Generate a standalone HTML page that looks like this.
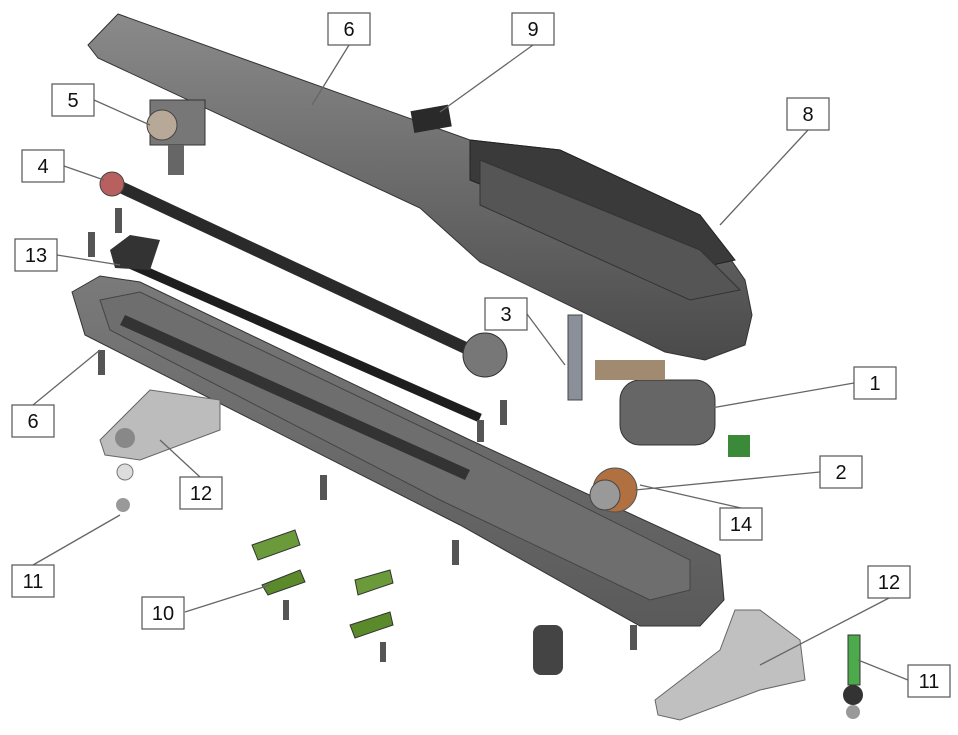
<!DOCTYPE html>
<html><head><meta charset="utf-8"><style>
html,body{margin:0;padding:0;background:#fff;}
svg{display:block;}
text{font-family:"Liberation Sans",sans-serif;font-size:20px;fill:#111;text-anchor:middle;}
.box{fill:#fff;stroke:#555;stroke-width:1.2;}
.ln{stroke:#666;stroke-width:1.3;fill:none;}
.sc{fill:#555;}
</style></head><body>
<svg width="958" height="735" viewBox="0 0 958 735">
<defs>
<linearGradient id="cov" x1="0" y1="0" x2="0" y2="1"><stop offset="0" stop-color="#8a8a8a"/><stop offset="1" stop-color="#4a4a4a"/></linearGradient>
<linearGradient id="hou" x1="0" y1="0" x2="0" y2="1"><stop offset="0" stop-color="#7a7a7a"/><stop offset="1" stop-color="#5a5a5a"/></linearGradient>
</defs>
<!-- top cover -->
<polygon points="88,45 118,14 470,140 560,150 700,215 745,280 752,315 745,345 705,360 665,352 480,262 420,208 98,58" fill="url(#cov)" stroke="#333"/>
<polygon points="470,140 560,150 700,215 735,260 690,270 470,180" fill="#3a3a3a" stroke="#222"/>
<polygon points="480,160 700,250 740,290 690,300 480,205" fill="#555" stroke="#333"/>
<!-- 9 -->
<rect x="412" y="108" width="38" height="22" fill="#2a2a2a" transform="rotate(-10 430 118)"/>
<!-- 5 -->
<rect x="150" y="100" width="55" height="45" fill="#777" stroke="#333"/>
<circle cx="162" cy="125" r="15" fill="#b8a898" stroke="#444"/>
<rect x="168" y="145" width="16" height="30" fill="#666"/>
<!-- bottom housing -->
<polygon points="72,292 100,276 140,282 470,440 720,555 724,600 700,626 640,626 460,525 85,335" fill="url(#hou)" stroke="#333"/>
<polygon points="100,300 140,292 470,450 690,560 690,590 650,600 440,500 110,330" fill="#6e6e6e" stroke="#444"/>
<polygon points="125,315 470,470 465,480 120,325" fill="#333"/>
<!-- screw 4 -->
<line x1="112" y1="183" x2="470" y2="350" stroke="#2a2a2a" stroke-width="12"/>
<circle cx="112" cy="184" r="12" fill="#b86060" stroke="#444"/>
<circle cx="485" cy="355" r="22" fill="#777" stroke="#333"/>
<!-- bar 13 -->
<line x1="125" y1="262" x2="480" y2="418" stroke="#1e1e1e" stroke-width="9"/>
<polygon points="110,250 130,235 160,240 150,270 115,268" fill="#333"/>
<!-- small screws -->
<rect class="sc" x="115" y="208" width="7" height="25"/>
<rect class="sc" x="88" y="232" width="7" height="25"/>
<rect class="sc" x="98" y="350" width="7" height="25"/>
<rect class="sc" x="320" y="475" width="7" height="25"/>
<rect class="sc" x="452" y="540" width="7" height="25"/>
<rect class="sc" x="500" y="400" width="7" height="25"/>
<rect class="sc" x="283" y="600" width="6" height="20"/>
<rect class="sc" x="380" y="642" width="6" height="20"/>
<rect class="sc" x="630" y="625" width="7" height="25"/>
<rect class="sc" x="477" y="420" width="7" height="22"/>
<!-- plates 12 -->
<polygon points="100,440 150,390 220,400 220,430 140,460 105,455" fill="#bcbcbc" stroke="#666"/>
<circle cx="125" cy="438" r="10" fill="#888"/>
<polygon points="655,700 720,650 735,610 760,610 800,640 805,680 760,690 680,720 658,715" fill="#c0c0c0" stroke="#666"/>
<!-- 3 -->
<rect x="568" y="315" width="14" height="85" fill="#8a8f9a" stroke="#444"/>
<!-- motor 1 -->
<rect x="620" y="380" width="95" height="65" rx="20" fill="#666" stroke="#333"/>
<rect x="595" y="360" width="70" height="20" fill="#a08a70"/>
<rect x="728" y="435" width="22" height="22" fill="#3a8a3a"/>
<!-- gear 2/14 -->
<circle cx="615" cy="490" r="22" fill="#b07040" stroke="#555"/>
<circle cx="605" cy="495" r="15" fill="#999" stroke="#444"/>
<!-- green parts 10 -->
<polygon points="252,545 295,530 300,545 258,560" fill="#6a9a3a" stroke="#333"/>
<polygon points="262,585 300,570 305,582 268,595" fill="#5a8a2a" stroke="#333"/>
<polygon points="355,580 390,570 393,583 358,595" fill="#6a9a3a" stroke="#333"/>
<polygon points="350,625 390,612 393,625 355,638" fill="#5a8a2a" stroke="#333"/>
<rect x="533" y="625" width="30" height="50" rx="8" fill="#444"/>
<!-- bolt 11 -->
<rect x="848" y="635" width="12" height="50" fill="#4caa4c" stroke="#333"/>
<circle cx="853" cy="695" r="10" fill="#333"/>
<circle cx="853" cy="712" r="7" fill="#999"/>
<circle cx="123" cy="505" r="7" fill="#999"/>
<circle cx="125" cy="472" r="8" fill="#ddd" stroke="#777"/>
<!-- leader lines -->
<line class="ln" x1="349" y1="45" x2="312" y2="105"/>
<line class="ln" x1="533" y1="45" x2="440" y2="112"/>
<line class="ln" x1="94" y1="100" x2="150" y2="125"/>
<line class="ln" x1="808" y1="130" x2="720" y2="225"/>
<line class="ln" x1="64" y1="166" x2="104" y2="180"/>
<line class="ln" x1="57" y1="255" x2="120" y2="265"/>
<line class="ln" x1="527" y1="314" x2="565" y2="365"/>
<line class="ln" x1="854" y1="383" x2="700" y2="410"/>
<line class="ln" x1="33" y1="405" x2="100" y2="350"/>
<line class="ln" x1="820" y1="472" x2="635" y2="490"/>
<line class="ln" x1="200" y1="477" x2="160" y2="440"/>
<line class="ln" x1="741" y1="508" x2="640" y2="485"/>
<line class="ln" x1="33" y1="565" x2="120" y2="515"/>
<line class="ln" x1="185" y1="612" x2="270" y2="585"/>
<line class="ln" x1="889" y1="598" x2="760" y2="665"/>
<line class="ln" x1="908" y1="680" x2="858" y2="660"/>
<!-- labels -->
<g>
<rect class="box" x="328" y="13" width="42" height="32"/><text x="349" y="36">6</text>
<rect class="box" x="512" y="13" width="42" height="32"/><text x="533" y="36">9</text>
<rect class="box" x="52" y="84" width="42" height="32"/><text x="73" y="107">5</text>
<rect class="box" x="787" y="98" width="42" height="32"/><text x="808" y="121">8</text>
<rect class="box" x="22" y="150" width="42" height="32"/><text x="43" y="173">4</text>
<rect class="box" x="15" y="239" width="42" height="32"/><text x="36" y="262">13</text>
<rect class="box" x="485" y="298" width="42" height="32"/><text x="506" y="321">3</text>
<rect class="box" x="854" y="367" width="42" height="32"/><text x="875" y="390">1</text>
<rect class="box" x="12" y="405" width="42" height="32"/><text x="33" y="428">6</text>
<rect class="box" x="820" y="456" width="42" height="32"/><text x="841" y="479">2</text>
<rect class="box" x="180" y="477" width="42" height="32"/><text x="201" y="500">12</text>
<rect class="box" x="720" y="508" width="42" height="32"/><text x="741" y="531">14</text>
<rect class="box" x="12" y="565" width="42" height="32"/><text x="33" y="588">11</text>
<rect class="box" x="142" y="597" width="42" height="32"/><text x="163" y="620">10</text>
<rect class="box" x="868" y="566" width="42" height="32"/><text x="889" y="589">12</text>
<rect class="box" x="908" y="665" width="42" height="32"/><text x="929" y="688">11</text>
</g>
</svg>
</body></html>
